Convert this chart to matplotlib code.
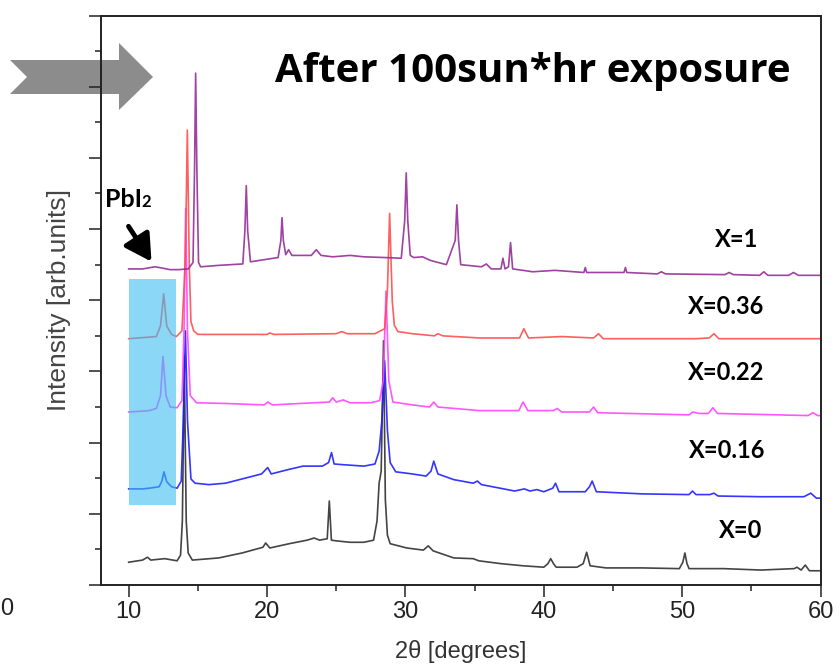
import matplotlib
matplotlib.use("Agg")
import matplotlib.pyplot as plt
from matplotlib.patches import Polygon, Rectangle, FancyArrowPatch
from matplotlib.ticker import MultipleLocator

# -------- DATA (2theta, offset intensity) -------- #
pts_x0 = [(10.0, 0.32), (11.0, 0.35), (11.36, 0.39), (11.6, 0.35), (12.6, 0.37), (13.5, 0.34),
          (13.75, 0.42), (13.88, 0.90), (13.95, 2.00), (14.02, 3.22), (14.09, 2.00), (14.16, 0.90),
          (14.3, 0.45), (14.6, 0.35),
          (16.5, 0.38), (18.2, 0.45), (19.7, 0.53), (19.9, 0.59), (20.2, 0.52), (21.6, 0.58),
          (22.9, 0.63), (23.4, 0.66), (23.8, 0.63), (24.35, 0.65), (24.5, 1.18), (24.65, 0.63),
          (25.0, 0.62), (26.0, 0.60), (27.0, 0.60), (27.7, 0.63), (27.95, 0.90), (28.1, 1.43),
          (28.25, 1.60), (28.42, 3.43), (28.55, 1.20), (28.7, 0.70), (28.9, 0.58), (30.1, 0.52),
          (31.3, 0.49), (31.65, 0.55), (32.0, 0.48), (33.5, 0.38), (34.9, 0.37), (35.3, 0.34),
          (36.9, 0.30), (38.5, 0.27), (40.0, 0.25), (40.3, 0.30), (40.5, 0.37), (40.7, 0.30),
          (40.9, 0.25), (42.4, 0.25), (42.85, 0.30), (43.1, 0.46), (43.35, 0.27), (44.5, 0.24),
          (47.1, 0.24), (49.8, 0.23), (50.05, 0.32), (50.2, 0.45), (50.35, 0.30), (50.5, 0.23),
          (53.0, 0.23), (55.7, 0.21), (58.1, 0.23), (58.3, 0.25), (58.6, 0.21), (58.9, 0.28),
          (59.2, 0.20), (60.0, 0.20)]

pts_x016 = [(10.0, 1.35), (11.0, 1.35), (11.5, 1.36), (12.2, 1.38), (12.4, 1.46), (12.55, 1.59),
            (12.75, 1.45), (13.1, 1.38), (13.5, 1.36), (13.8, 1.46), (13.95, 2.31), (14.1, 3.57),
            (14.25, 2.31), (14.5, 1.49), (14.8, 1.43), (15.8, 1.41), (17.0, 1.43), (18.2, 1.49),
            (19.6, 1.56), (20.05, 1.65), (20.3, 1.56), (21.5, 1.62), (22.6, 1.67), (24.0, 1.67),
            (24.45, 1.72), (24.66, 1.86), (24.85, 1.70), (25.5, 1.69), (27.0, 1.67), (27.8, 1.70),
            (28.1, 1.88), (28.3, 2.31), (28.5, 3.15), (28.7, 2.17), (28.9, 1.72), (29.3, 1.59),
            (30.5, 1.56), (31.5, 1.53), (31.85, 1.60), (32.05, 1.74), (32.35, 1.56), (33.5, 1.48),
            (34.9, 1.43), (35.2, 1.46), (35.5, 1.41), (37.9, 1.32), (38.6, 1.35), (39.0, 1.32),
            (39.5, 1.34), (40.0, 1.31), (40.65, 1.36), (40.85, 1.43), (41.1, 1.31), (43.0, 1.31),
            (43.3, 1.38), (43.5, 1.46), (43.8, 1.31), (47.1, 1.28), (50.5, 1.27), (50.75, 1.32),
            (51.0, 1.27), (52.0, 1.27), (52.3, 1.29), (52.6, 1.25), (55.7, 1.24), (58.8, 1.24),
            (59.3, 1.29), (59.7, 1.22), (60.0, 1.22)]

pts_x022 = [(10.0, 2.43), (11.5, 2.45), (12.0, 2.48), (12.3, 2.66), (12.48, 3.21), (12.7, 2.66),
            (13.0, 2.50), (13.5, 2.49), (13.85, 2.59), (14.0, 3.57), (14.12, 5.29), (14.25, 3.57),
            (14.45, 2.66), (14.9, 2.56), (17.0, 2.55), (19.8, 2.53), (20.05, 2.57), (20.4, 2.53),
            (22.4, 2.55), (24.5, 2.57), (24.75, 2.63), (25.0, 2.57), (25.5, 2.60), (26.0, 2.56),
            (27.5, 2.56), (28.14, 2.59), (28.4, 2.87), (28.6, 4.13), (28.8, 2.87), (29.1, 2.57),
            (30.5, 2.53), (31.75, 2.50), (32.05, 2.57), (32.35, 2.50), (35.36, 2.45), (38.2, 2.45),
            (38.5, 2.57), (38.85, 2.45), (40.7, 2.45), (40.97, 2.48), (41.3, 2.43), (43.3, 2.43),
            (43.6, 2.50), (43.9, 2.42), (50.5, 2.39), (50.78, 2.43), (51.2, 2.41), (51.9, 2.41),
            (52.22, 2.49), (52.55, 2.41), (59.1, 2.38), (59.45, 2.42), (59.8, 2.38), (60.0, 2.38)]

pts_x036 = [(10.0, 3.46), (12.0, 3.49), (12.3, 3.64), (12.53, 4.09), (12.75, 3.64), (13.1, 3.52),
            (13.45, 3.49), (13.85, 3.57), (14.1, 4.60), (14.24, 6.39), (14.38, 4.50), (14.5, 3.70),
            (14.7, 3.57), (15.0, 3.52), (17.0, 3.52), (20.0, 3.52), (20.2, 3.54), (20.5, 3.52),
            (25.0, 3.53), (25.4, 3.56), (25.8, 3.53), (27.8, 3.53), (28.5, 3.60), (28.7, 4.13),
            (28.86, 5.22), (29.05, 3.99), (29.2, 3.65), (29.46, 3.56), (30.5, 3.53), (32.1, 3.50),
            (32.35, 3.53), (32.7, 3.50), (35.36, 3.47), (38.25, 3.47), (38.56, 3.60), (38.9, 3.47),
            (41.3, 3.49), (43.6, 3.47), (43.96, 3.53), (44.3, 3.46), (51.0, 3.46), (51.95, 3.47),
            (52.3, 3.53), (52.65, 3.46), (60.0, 3.46)]

pts_x1 = [(10.0, 4.44), (11.0, 4.44), (11.9, 4.47), (12.2, 4.46), (13.0, 4.43), (13.6, 4.43),
          (14.3, 4.44), (14.65, 4.53), (14.76, 5.82), (14.84, 7.19), (14.93, 5.82), (15.05, 4.53),
          (15.2, 4.47), (16.5, 4.49), (18.25, 4.51), (18.4, 4.98), (18.5, 5.61), (18.6, 4.98),
          (18.8, 4.54), (20.8, 4.60), (21.0, 4.84), (21.08, 5.16), (21.18, 4.84), (21.35, 4.64),
          (21.56, 4.71), (21.8, 4.63), (23.2, 4.63), (23.56, 4.71), (23.9, 4.63), (24.74, 4.61),
          (26.0, 4.63), (27.0, 4.61), (28.5, 4.60), (29.7, 4.59), (29.95, 5.12), (30.06, 5.79),
          (30.17, 5.12), (30.35, 4.63), (30.6, 4.60), (31.25, 4.61), (31.8, 4.56), (32.96, 4.50),
          (33.6, 4.84), (33.72, 5.34), (33.84, 4.84), (34.0, 4.50), (35.5, 4.47), (35.85, 4.51),
          (36.2, 4.44), (36.9, 4.44), (37.05, 4.59), (37.2, 4.44), (37.45, 4.47), (37.6, 4.81),
          (37.75, 4.44), (38.5, 4.42), (39.2, 4.40), (40.8, 4.42), (42.9, 4.39), (43.0, 4.46),
          (43.1, 4.39), (45.8, 4.39), (45.9, 4.46), (46.0, 4.39), (48.2, 4.37), (48.5, 4.40),
          (48.8, 4.37), (53.1, 4.36), (53.4, 4.39), (53.7, 4.36), (55.6, 4.35), (55.9, 4.40),
          (56.2, 4.35), (57.7, 4.35), (58.05, 4.39), (58.4, 4.35), (60.0, 4.35)]

series = [pts_x0, pts_x016, pts_x022, pts_x036, pts_x1]
colors = ["#303030", "#1f1fff", "#ff44ff", "#ff4d4d", "#952d98"]
labels = ["X=0", "X=0.16", "X=0.22", "X=0.36", "X=1"]
# label centres in image pixels (x, y)
label_pos = [(741, 530), (727, 450), (726, 373), (726, 306), (737, 240)]

W, H = 840, 669

fig = plt.figure(figsize=(8.4, 6.69), dpi=100)
ax = fig.add_axes([101 / W, 1 - 585 / H, (820.5 - 101) / W, (585 - 15.5) / H])
ax.patch.set_alpha(0)

for pts, c in zip(series, colors):
    xs, ys = zip(*pts)
    ax.plot(xs, ys, color=c, lw=1.2, alpha=0.9, solid_joinstyle="round")

# PbI2 highlight box
ax.add_patch(Rectangle((10.0, 1.125), 3.45, 3.175, facecolor=(0.235, 0.745, 0.941),
                       alpha=0.6, edgecolor="none", zorder=5))

ax.set_xlim(8, 60)
ax.set_ylim(0, 8)
ax.xaxis.set_major_locator(MultipleLocator(10))
ax.xaxis.set_minor_locator(MultipleLocator(5))
ax.yaxis.set_major_locator(MultipleLocator(1))
ax.yaxis.set_minor_locator(MultipleLocator(0.5))
ax.tick_params(which="major", direction="out", length=8.6, width=1.1, color="#222")
ax.tick_params(which="minor", direction="out", length=4.3, width=1.1, color="#222")
ax.tick_params(axis="y", labelleft=False)
ax.tick_params(axis="x", labelsize=17, colors="#222", pad=3)
for lab in ax.get_xticklabels():
    lab.set_family("Liberation Sans")
for s in ax.spines.values():
    s.set_linewidth(1.4)
    s.set_color("#222")

ax.set_xlabel("2θ [degrees]", fontsize=17, family="Liberation Sans", color="#333", labelpad=12)
ax.set_ylabel("Intensity [arb.units]", fontsize=19, family="Liberation Sans", color="#444",
              labelpad=13)

# trace labels
for lab, (px, py) in zip(labels, label_pos):
    fig.text(px / W, 1 - py / H, lab, ha="center", va="center", fontsize=17,
             fontweight="bold", family="Lato")

fig.text(275 / W, 1 - 82 / H, "After 100sun*hr exposure", ha="left", va="baseline",
         fontsize=29, fontweight="bold", family="Open Sans")

# PbI2 label with arrow
fig.text(105 / W, 1 - 207 / H, "PbI", ha="left", va="baseline", fontsize=18,
         fontweight="bold", family="Lato")
fig.text(141 / W, 1 - 207 / H, "2", ha="left", va="baseline", fontsize=12,
         fontweight="bold", family="Lato")
fig.add_artist(FancyArrowPatch(
    (127 / W, 1 - 224 / H), (153 / W, 1 - 264 / H), transform=fig.transFigure,
    arrowstyle="-|>,head_length=8,head_width=4.5", mutation_scale=2, lw=3.5, color="black"))

# big gray arrow on the left
arrow_px = [(10, 60), (119, 60), (119, 43), (153, 77), (119, 110), (119, 94), (10, 94), (27, 77)]
fig.patches.append(Polygon([(x / W, 1 - y / H) for x, y in arrow_px], closed=True,
                           transform=fig.transFigure, facecolor="#8c8c8c",
                           edgecolor="none", zorder=-1))

# stray tick label at the far left edge
fig.text(0.5 / W, 1 - 609 / H, "0", ha="left", va="center", fontsize=17,
         family="Liberation Sans", color="#222")

fig.savefig("out.png", dpi=100)
